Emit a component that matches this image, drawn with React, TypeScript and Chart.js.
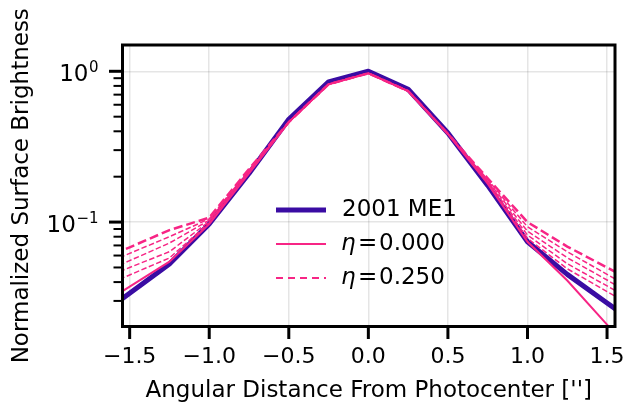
import React, { useEffect, useRef } from "react";
import { Chart, registerables } from "chart.js";

Chart.register(...registerables);

// ---- data ----
const offsets = [-1.75, -1.5, -1.25, -1.0, -0.75, -0.5, -0.25, 0, 0.25, 0.5, 0.75, 1.0, 1.25, 1.5, 1.75];
const me1 = [0.0215, 0.0337, 0.0527, 0.097, 0.21, 0.48, 0.85, 1.0, 0.76, 0.39, 0.175, 0.074, 0.045, 0.0291, 0.0188];
const eta000 = [0.0255, 0.0373, 0.0546, 0.097, 0.21, 0.46, 0.82, 0.97, 0.74, 0.385, 0.18, 0.074, 0.041, 0.0209, 0.0107];
const eta050 = [0.0345, 0.0446, 0.0578, 0.099, 0.212, 0.46, 0.82, 0.97, 0.74, 0.385, 0.182, 0.078, 0.049, 0.0346, 0.0245];
const eta100 = [0.039, 0.05, 0.0636, 0.101, 0.215, 0.46, 0.82, 0.97, 0.74, 0.385, 0.185, 0.082, 0.053, 0.0377, 0.027];
const eta150 = [0.0425, 0.0555, 0.0726, 0.103, 0.218, 0.46, 0.82, 0.97, 0.74, 0.385, 0.188, 0.087, 0.058, 0.0413, 0.029];
const eta200 = [0.048, 0.062, 0.08, 0.105, 0.221, 0.46, 0.82, 0.97, 0.74, 0.385, 0.191, 0.093, 0.0636, 0.045, 0.032];
const eta250 = [0.053, 0.068, 0.0885, 0.107, 0.225, 0.46, 0.82, 0.97, 0.74, 0.385, 0.195, 0.1, 0.0688, 0.05, 0.036];

const xTickValues = [-1.5, -1.0, -0.5, 0, 0.5, 1.0, 1.5];
const yMajorTicks = [0.1, 1];
const yMajorExponents = ["\u22121", "0"];
const yMinorTicks = [0.03, 0.04, 0.05, 0.06, 0.07, 0.08, 0.09, 0.2, 0.3, 0.4, 0.5, 0.6, 0.7, 0.8, 0.9];

const legendLabels = ["2001 ME1", "0.000", "0.250"];

const BLUE = "#3a0ca3";
const PINK = "#f72585";
const FONT = "'DejaVu Sans', 'Liberation Sans', sans-serif";

const pts = (ys: number[]) => offsets.map((x, i) => ({ x, y: ys[i] }));

const decorPlugin = {
  id: "decor",
  afterDatasetsDraw(chart: any) {
    const { ctx, chartArea: a, scales } = chart;
    const xs = scales.x;
    const ys = scales.y;
    ctx.save();
    // frame
    ctx.strokeStyle = "#000";
    ctx.lineWidth = 3;
    ctx.lineCap = "butt";
    ctx.strokeRect(a.left, a.top, a.right - a.left, a.bottom - a.top);
    // x ticks
    ctx.lineWidth = 3;
    for (const v of xTickValues) {
      const px = xs.getPixelForValue(v);
      ctx.beginPath();
      ctx.moveTo(px, a.bottom);
      ctx.lineTo(px, a.bottom + 12.5);
      ctx.stroke();
    }
    // y major ticks + labels (10^n)
    yMajorTicks.forEach((v, i) => {
      const py = ys.getPixelForValue(v);
      ctx.lineWidth = 3;
      ctx.strokeStyle = "#000";
      ctx.beginPath();
      ctx.moveTo(a.left, py);
      ctx.lineTo(a.left - 13.5, py);
      ctx.stroke();
      ctx.fillStyle = "#000";
      ctx.textAlign = "right";
      ctx.textBaseline = "alphabetic";
      ctx.font = `15px ${FONT}`;
      const exp = yMajorExponents[i];
      const right = 98.5;
      ctx.fillText(exp, right, py + 0.5);
      const ew = ctx.measureText(exp).width;
      ctx.font = `23px ${FONT}`;
      ctx.fillText("10", right - ew - 0.5, py + 9.5);
    });
    ctx.lineWidth = 2;
    for (const v of yMinorTicks) {
      const py = ys.getPixelForValue(v);
      ctx.beginPath();
      ctx.moveTo(a.left, py);
      ctx.lineTo(a.left - 9, py);
      ctx.stroke();
    }
    // legend
    const rows = [
      { y: 210, color: BLUE, width: 5, dash: [] as number[] },
      { y: 244, color: PINK, width: 2, dash: [] as number[] },
      { y: 278, color: PINK, width: 2, dash: [7, 5] },
    ];
    rows.forEach((r, i) => {
      ctx.strokeStyle = r.color;
      ctx.lineWidth = r.width;
      ctx.setLineDash(r.dash);
      ctx.beginPath();
      ctx.moveTo(276, r.y);
      ctx.lineTo(326, r.y);
      ctx.stroke();
      ctx.setLineDash([]);
      ctx.fillStyle = "#000";
      ctx.textBaseline = "middle";
      ctx.textAlign = "left";
      if (i === 0) {
        ctx.font = `23px ${FONT}`;
        ctx.fillText(legendLabels[0], 342, r.y);
      } else {
        ctx.font = `italic 23px ${FONT}`;
        ctx.fillText("\u03B7", 341, r.y);
        ctx.font = `23px ${FONT}`;
        ctx.fillText("=", 358, r.y);
        ctx.fillText(legendLabels[i], 379, r.y);
      }
    });
    ctx.restore();
  },
};

export default function App() {
  const ref = useRef<HTMLCanvasElement>(null);
  useEffect(() => {
    document.body.style.margin = "0";
    const canvas = ref.current!;
    const dashedThin = (data: number[], order: number) => ({
      label: "",
      data: pts(data),
      borderColor: PINK,
      borderWidth: 1.5,
      borderDash: [5.5, 2.5],
      pointRadius: 0,
      fill: false,
      tension: 0,
      clip: 0,
      order,
    });
    const chart = new Chart(canvas, {
      type: "line",
      data: {
        datasets: [
          { label: "2001 ME1", data: pts(me1), borderColor: BLUE, borderWidth: 5, pointRadius: 0, fill: false, tension: 0, clip: 0, order: 10, borderJoinStyle: "round" } as any,
          { label: "eta=0.000", data: pts(eta000), borderColor: PINK, borderWidth: 2, pointRadius: 0, fill: false, tension: 0, clip: 0, order: 6 } as any,
          dashedThin(eta050, 5),
          dashedThin(eta100, 4),
          dashedThin(eta150, 3),
          dashedThin(eta200, 2),
          { label: "eta=0.250", data: pts(eta250), borderColor: PINK, borderWidth: 2.5, borderDash: [9, 4], pointRadius: 0, fill: false, tension: 0, clip: 0, order: 1 } as any,
        ],
      },
      options: {
        animation: false,
        responsive: false,
        maintainAspectRatio: false,
        layout: { autoPadding: false, padding: { top: 45, right: 9, left: 0, bottom: 0 } },
        plugins: { legend: { display: false }, tooltip: { enabled: false } },
        scales: {
          x: {
            type: "linear",
            min: -1.545,
            max: 1.55,
            afterBuildTicks: (s: any) => {
              s.ticks = xTickValues.map((v) => ({ value: v }));
            },
            afterFit: (s: any) => {
              s.height = 81.5;
              s.paddingLeft = 0;
              s.paddingRight = 0;
            },
            border: { display: false },
            grid: { color: "rgba(0,0,0,0.1)", lineWidth: 1.5, drawTicks: false },
            ticks: {
              autoSkip: false,
              maxRotation: 0,
              padding: 18,
              color: "#000",
              font: { family: FONT, size: 22 },
              callback: (v: any) => (v < 0 ? "\u2212" : "") + Math.abs(Number(v)).toFixed(1),
            },
            title: {
              display: true,
              text: "Angular Distance From Photocenter ['']",
              color: "#000",
              font: { family: FONT, size: 23 },
              padding: { top: 0, bottom: 3 },
            },
          },
          y: {
            type: "logarithmic",
            min: 0.0203,
            max: 1.494,
            afterBuildTicks: (s: any) => {
              s.ticks = [...yMinorTicks, ...yMajorTicks].sort((p, q) => p - q).map((v) => ({ value: v }));
            },
            afterFit: (s: any) => {
              s.width = 122.5;
              s.paddingTop = 0;
              s.paddingBottom = 0;
            },
            border: { display: false },
            grid: {
              drawTicks: false,
              lineWidth: 1.5,
              color: (c: any) =>
                c.tick && yMajorTicks.some((m) => Math.abs(m - c.tick.value) < 1e-9) ? "rgba(0,0,0,0.1)" : "rgba(0,0,0,0)",
            },
            ticks: {
              autoSkip: false,
              padding: 23.5,
              color: "#000",
              font: { family: FONT, size: 22 },
              callback: () => "",
            },
            title: {
              display: true,
              text: "Normalized Surface Brightness",
              color: "#000",
              font: { family: FONT, size: 23 },
              padding: { top: 8, bottom: 0 },
            },
          },
        },
      },
      plugins: [decorPlugin],
    } as any);
    return () => chart.destroy();
  }, []);
  return (
    <div style={{ position: "absolute", left: 0, top: 0, width: 624, height: 408 }}>
      <canvas ref={ref} width={624} height={408} style={{ display: "block", width: 624, height: 408 }} />
    </div>
  );
}
